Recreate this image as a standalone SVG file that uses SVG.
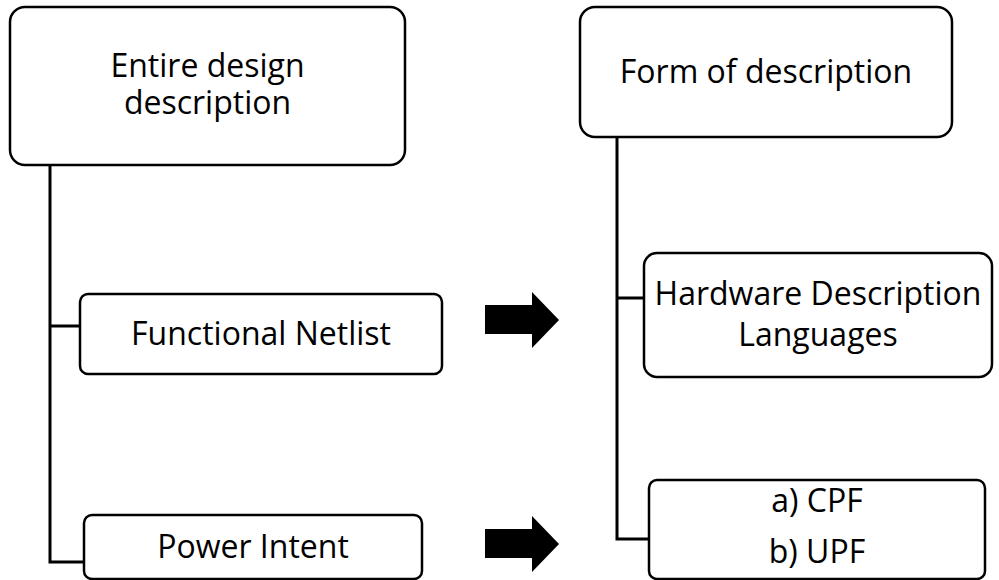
<svg xmlns="http://www.w3.org/2000/svg" width="999" height="580" viewBox="0 0 999 580">
  <style>
    .box { fill: #ffffff; stroke: #000000; stroke-width: 2.5; }
    .lbl { font-family: "Open Sans", "Noto Sans", sans-serif; font-size: 32px; fill: #000000; text-anchor: middle; }
    .wire { fill: none; stroke: #000000; stroke-width: 3; }
    .arrow { fill: #000000; stroke: none; }
  </style>
  <rect width="999" height="580" fill="#ffffff"/>

  <!-- tree connectors and block arrows -->
  <g id="connectors">
    <path class="wire" d="M50,165 V562 H84 M50,326 H80"/>
    <path class="wire" d="M617,137 V539 H649 M617,298 H644"/>
    <path class="arrow" d="M485,305 H532 V292 L559,320 L532,348 V334 H485 Z"/>
    <path class="arrow" d="M485,529 H532 V516 L559,544 L532,572 V558 H485 Z"/>
  </g>

  <g id="entire-design">
    <rect class="box" x="10" y="7" width="395" height="158" rx="15"/>
    <text class="lbl" x="207.5" y="77">Entire design</text>
    <text class="lbl" x="207.5" y="114">description</text>
  </g>

  <g id="functional-netlist">
    <rect class="box" x="80" y="294" width="362" height="80" rx="8"/>
    <text class="lbl" x="261" y="345">Functional Netlist</text>
  </g>

  <g id="power-intent">
    <rect class="box" x="84" y="515" width="338" height="64" rx="8"/>
    <text class="lbl" x="253" y="558">Power Intent</text>
  </g>

  <g id="form-of-description">
    <rect class="box" x="580" y="7" width="372" height="130" rx="15"/>
    <text class="lbl" x="766" y="83">Form of description</text>
  </g>

  <g id="hdl">
    <rect class="box" x="644" y="253" width="348" height="124" rx="13"/>
    <text class="lbl" x="818" y="305">Hardware Description</text>
    <text class="lbl" x="818" y="346">Languages</text>
  </g>

  <g id="cpf-upf">
    <rect class="box" x="649" y="480" width="336" height="99" rx="8"/>
    <text class="lbl" x="817" y="512">a) CPF</text>
    <text class="lbl" x="817" y="563">b) UPF</text>
  </g>
</svg>
